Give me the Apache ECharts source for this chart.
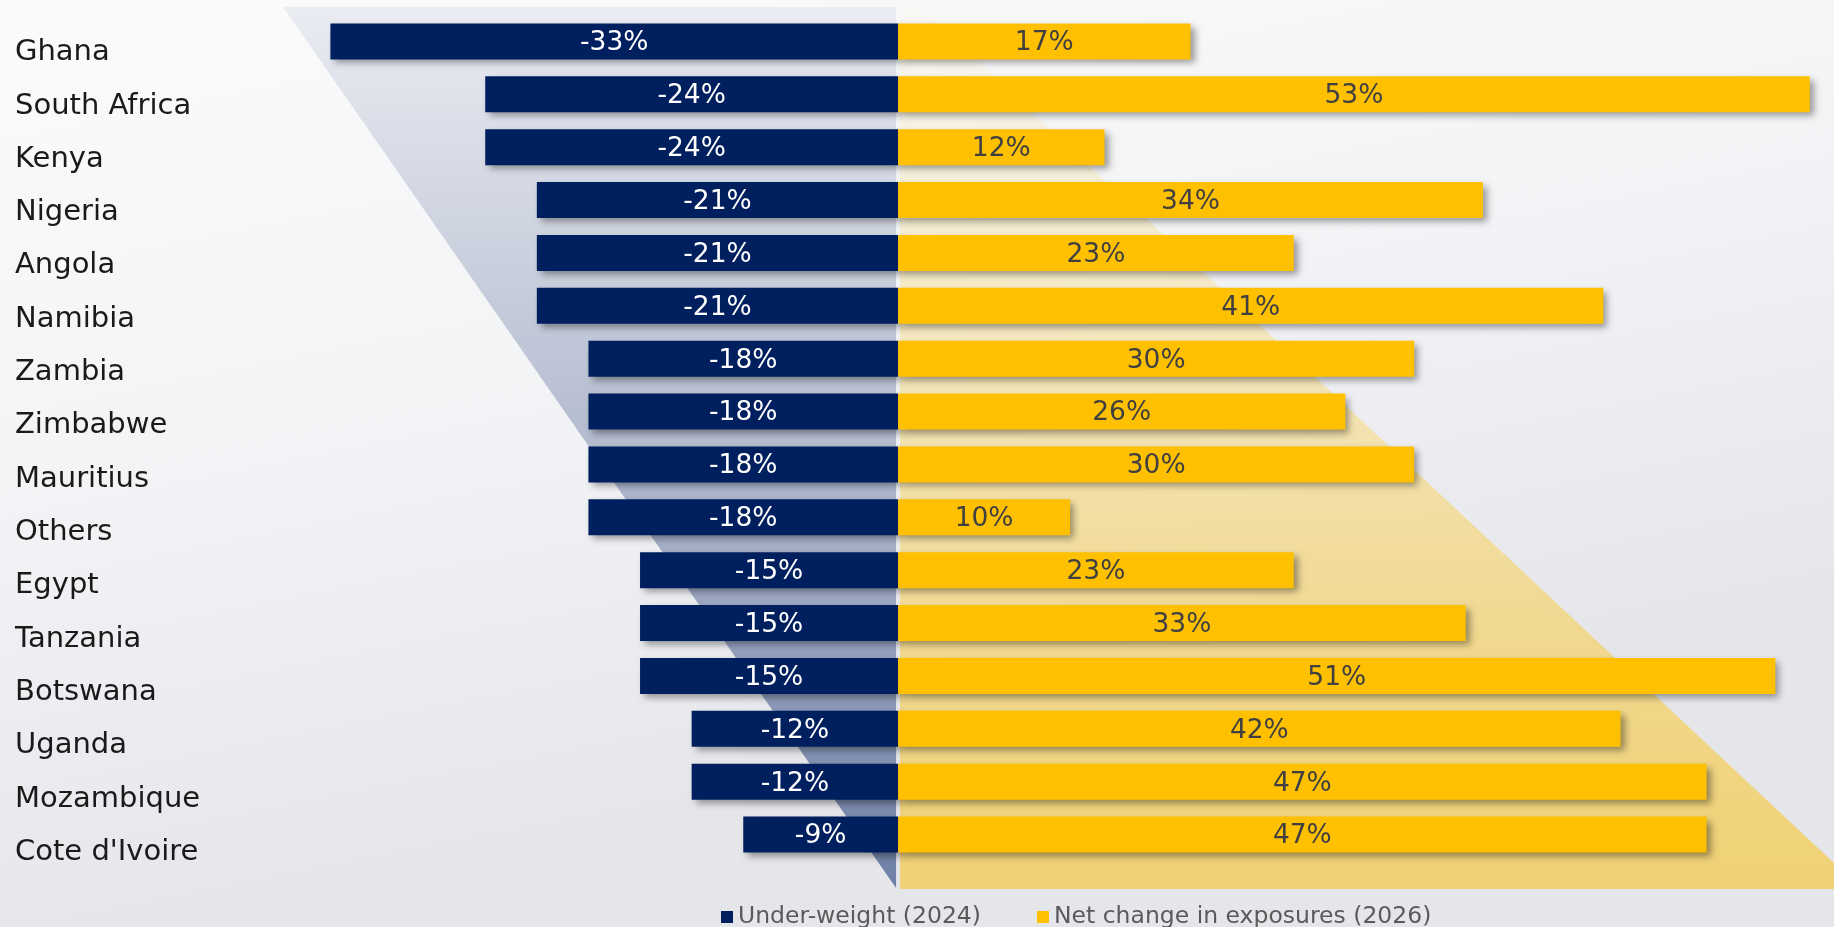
<!DOCTYPE html>
<html>
<head>
<meta charset="utf-8">
<script src="https://cdn.jsdelivr.net/npm/echarts@6/dist/echarts.min.js"></script>
<style>
  html, body { margin: 0; padding: 0; }
  #chart { width: 1834px; height: 927px; }
</style>
</head>
<body>
<div id="chart"></div>
<script>
// Markets, top to bottom
const countries = [
  'Ghana', 'South Africa', 'Kenya', 'Nigeria', 'Angola', 'Namibia', 'Zambia',
  'Zimbabwe', 'Mauritius', 'Others', 'Egypt', 'Tanzania', 'Botswana', 'Uganda',
  'Mozambique', "Cote d'Ivoire"
];
// Share of respondents under-weight in 2024 (%)
const underWeight2024 = [-33, -24, -24, -21, -21, -21, -18, -18, -18, -18, -15, -15, -15, -12, -12, -9];
// Net change in exposures expected by 2026 (%)
const netChange2026 = [17, 53, 12, 34, 23, 41, 30, 26, 30, 10, 23, 33, 51, 42, 47, 47];

const seriesNames = ['Under-weight (2024)', 'Net change in exposures (2026)'];

const NAVY = '#001f5f';
const GOLD = '#ffc000';
const FONT = 'DejaVu Sans';

const chart = echarts.init(document.getElementById('chart'), null, { renderer: 'canvas' });

const barShadow = {
  shadowColor: 'rgba(0,0,0,0.38)',
  shadowBlur: 7,
  shadowOffsetX: 4,
  shadowOffsetY: 4
};

const hiddenValueAxis = {
  type: 'value',
  axisLine: { show: false },
  axisTick: { show: false },
  axisLabel: { show: false },
  splitLine: { show: false }
};

chart.setOption({
  animation: false,
  grid: [
    // bars
    { left: 296, width: 1531, top: 15, height: 846 },
    // country names, set a touch lower than the bar rows
    { left: 296, width: 10, top: 26, height: 853 }
  ],
  xAxis: [
    Object.assign({ gridIndex: 0, min: -35, max: 54 }, hiddenValueAxis),
    Object.assign({ gridIndex: 1, min: 0, max: 1 }, hiddenValueAxis)
  ],
  yAxis: [
    {
      gridIndex: 0,
      type: 'category',
      inverse: true,
      data: countries,
      axisLine: { show: false },
      axisTick: { show: false },
      axisLabel: { show: false }
    },
    {
      gridIndex: 1,
      type: 'category',
      inverse: true,
      data: countries,
      axisLine: { show: false },
      axisTick: { show: false },
      axisLabel: {
        align: 'left',
        margin: 281,
        fontFamily: FONT,
        fontSize: 29,
        color: '#1a1a1a'
      }
    }
  ],
  legend: {
    data: seriesNames,
    left: 716,
    top: 900,
    icon: 'rect',
    itemWidth: 12,
    itemHeight: 12,
    itemGap: 56,
    textStyle: { fontFamily: FONT, fontSize: 23.5, color: '#5a5a5a' }
  },
  series: [
    {
      name: seriesNames[0],
      type: 'bar',
      stack: 'total',
      barWidth: 36,
      data: underWeight2024,
      itemStyle: Object.assign({ color: NAVY }, barShadow),
      label: {
        show: true,
        position: 'inside',
        offset: [0, 2],
        formatter: p => p.value + '%',
        fontFamily: FONT,
        fontSize: 26.5,
        color: '#ffffff'
      },
      z: 3
    },
    {
      name: seriesNames[1],
      type: 'bar',
      stack: 'total',
      barWidth: 36,
      data: netChange2026,
      itemStyle: Object.assign({ color: GOLD }, barShadow),
      label: {
        show: true,
        position: 'inside',
        offset: [0, 2],
        formatter: p => p.value + '%',
        fontFamily: FONT,
        fontSize: 26.5,
        color: '#404040'
      },
      z: 4
    }
  ]
});

// Backdrop: soft page gradient plus the two funnel shapes either side of zero
const W = chart.getWidth();
const H = chart.getHeight();
const zeroX = chart.convertToPixel({ xAxisIndex: 0 }, 0);
const shapeTop = 7;
const shapeBottom = 888;
const navyLeftTop = zeroX - 615;
const goldRightY = 863;

chart.setOption({
  graphic: [
    {
      type: 'rect',
      z: -30,
      silent: true,
      shape: { x: 0, y: 0, width: W, height: H },
      style: {
        fill: new echarts.graphic.LinearGradient(0, 0, 0.1, 1, [
          { offset: 0, color: '#fbfbfc' },
          { offset: 0.5, color: '#f3f4f6' },
          { offset: 1, color: '#e5e6ea' }
        ])
      }
    },
    {
      type: 'polygon',
      z: -20,
      silent: true,
      shape: {
        points: [
          [navyLeftTop, shapeTop],
          [zeroX - 2, shapeTop],
          [zeroX - 2, shapeBottom]
        ]
      },
      style: {
        fill: new echarts.graphic.LinearGradient(0, 0, 0, 1, [
          { offset: 0, color: '#eaecf2' },
          { offset: 0.5, color: '#b3bbcf' },
          { offset: 1, color: '#6e80a6' }
        ])
      }
    },
    {
      type: 'polygon',
      z: -20,
      silent: true,
      shape: {
        points: [
          [zeroX + 2, shapeTop],
          [zeroX + 22, shapeTop],
          [W, goldRightY],
          [W, shapeBottom + 1],
          [zeroX + 2, shapeBottom + 1]
        ]
      },
      style: {
        fill: new echarts.graphic.LinearGradient(0, 0, 0, 1, [
          { offset: 0, color: 'rgba(255,226,140,0.04)' },
          { offset: 0.35, color: 'rgba(250,220,130,0.45)' },
          { offset: 0.7, color: 'rgba(245,212,115,0.75)' },
          { offset: 1, color: 'rgba(241,208,110,0.95)' }
        ])
      }
    }
  ]
});
</script>
</body>
</html>
